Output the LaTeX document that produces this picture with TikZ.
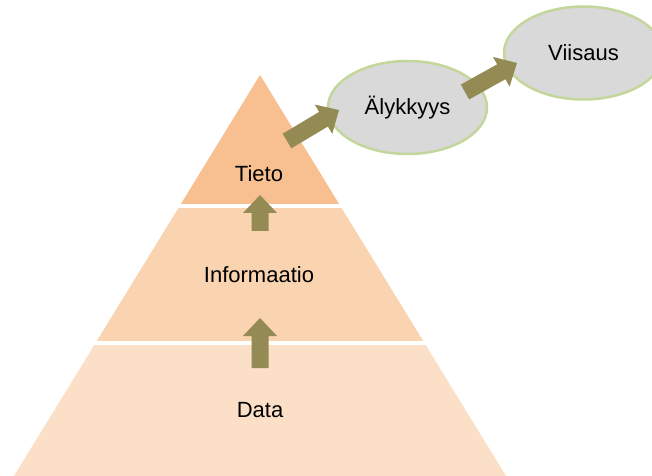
\documentclass[tikz,border=0pt]{standalone}
\usepackage{fontspec}
\setmainfont{Liberation Sans}
\usetikzlibrary{calc,shapes.geometric}

\definecolor{tietofill}{HTML}{F8C090}
\definecolor{infofill}{HTML}{FAD4B0}
\definecolor{datafill}{HTML}{FBDFC6}
\definecolor{arrowfill}{HTML}{948A54}
\definecolor{ovalfill}{HTML}{D9D9D9}
\definecolor{ovalline}{HTML}{C3D69B}

% block arrow from #1 to #2: shaft 17bp wide, head 34bp wide, 18bp long
\newcommand\blockarrow[2]{%
  \coordinate (ba-h) at ($(#2)!18bp!(#1)$);
  \fill[arrowfill]
    ($(#1)!8.5bp!90:(#2)$) -- ($(ba-h)!8.5bp!90:(#2)$) -- ($(ba-h)!17bp!90:(#2)$) -- (#2)
    -- ($(ba-h)!17bp!-90:(#2)$) -- ($(ba-h)!8.5bp!-90:(#2)$) -- ($(#1)!8.5bp!-90:(#2)$) -- cycle;
}

\tikzset{
  label/.style={font=\fontsize{22bp}{26bp}\selectfont, text=black, inner sep=0pt},
  oval/.style={ellipse, fill=ovalfill, draw=ovalline, line width=2.5bp,
    minimum width=159bp, minimum height=93bp, inner sep=0pt,
    font=\fontsize{22bp}{26bp}\selectfont},
}

\begin{document}
\begin{tikzpicture}[x=1bp,y=-1bp]
  \useasboundingbox (0,0) rectangle (652,476);
  \fill[white] (0,0) rectangle (652,476);

  % pyramid layers
  \begin{scope}
    \clip (260,75) -- (506,476) -- (14,476) -- cycle;
    \fill[tietofill] (0,0) rectangle (652,206.5);
    \fill[infofill] (0,206.5) rectangle (652,342.5);
    \fill[datafill] (0,342.5) rectangle (652,476);
  \end{scope}
  \draw[white, line width=4bp] (150,206.5) -- (370,206.5);
  \draw[white, line width=4bp] (70,342.5) -- (450,342.5);

  % layer labels
  \node[label] (tieto) at (259,174) {Tieto};
  \node[label] (info) at (259,274.5) {Informaatio};
  \node[label] (data) at (260,410.5) {Data};

  % ovals
  \node[oval] (aly) at (407.5,107.5) {Älykkyys};
  \node[oval] (viisaus) at (583.5,53) {Viisaus};

  % arrow end points
  \coordinate (a1s) at (260,231);
  \coordinate (a1e) at (260,195);
  \coordinate (a2s) at (260,368);
  \coordinate (a2e) at (260,318);
  \coordinate (a3s) at (287,141);
  \coordinate (a3e) at (339,110);
  \coordinate (a4s) at (465,92);
  \coordinate (a4e) at (517,63);

  \blockarrow{a1s}{a1e}
  \blockarrow{a2s}{a2e}
  \blockarrow{a3s}{a3e}
  \blockarrow{a4s}{a4e}
\end{tikzpicture}
\end{document}
